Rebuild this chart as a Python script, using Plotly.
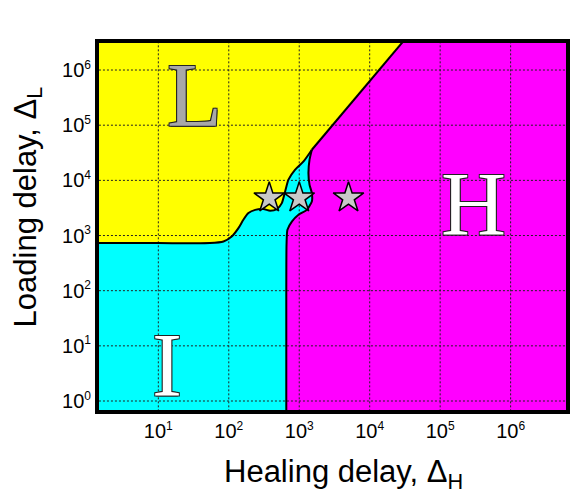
import plotly.graph_objects as go

# boundary between the L (yellow) and I (cyan) regions, left to right
LI_X = [0.1, 1, 10, 54, 84, 110, 137, 161, 190, 237, 310, 386, 481, 566, 631, 703, 875, 1150, 1510]
LI_Y = [728, 728, 728, 728, 778, 959, 1360, 1930, 2550, 2920, 3010, 2810, 3010, 3870, 6300, 10300, 15600, 22000, 35900]

# straight boundary between L and H, from the triple point up past the top
LH_X = [1510, 62000]
LH_Y = [35900, 1e7]

# boundary between I (cyan) and H (magenta), from the triple point down
IH_X = [1510, 1400, 1350, 1400, 1510, 1510, 1280, 975, 785, 680, 660, 655, 655, 655]
IH_Y = [35900, 23700, 13600, 8300, 5900, 4140, 2920, 2380, 1790, 1270, 678, 10, 0.1, 0.01]

# simulated points
STAR_X = [375, 1000, 5000]
STAR_Y = [4800, 4800, 4800]

X_TICKS = [10, 100, 1000, 1e4, 1e5, 1e6]
X_EXP = ["1", "2", "3", "4", "5", "6"]
Y_TICKS = [1, 10, 100, 1000, 1e4, 1e5, 1e6]
Y_EXP = ["0", "1", "2", "3", "4", "5", "6"]

# region labels (log10 positions for annotations)
REGION_TEXT = ["L", "H", "I"]
REGION_X = [1.51, 5.48, 1.12]
REGION_Y = [5.53, 3.56, 0.65]

XMIN, XMAX = 0.01, 1e8
YMIN, YMAX = 0.01, 1e8


def power_label(e):
    return "10<sup><span style='font-size:12px'>" + e + "</span></sup>"


fig = go.Figure()

# H region (magenta)
fig.add_trace(go.Scatter(
    x=LH_X + [XMAX, XMAX] + IH_X[::-1][:-1],
    y=LH_Y + [LH_Y[-1], YMIN] + IH_Y[::-1][:-1],
    fill="toself", fillcolor="#ff00ff", mode="lines", line=dict(width=0),
    hoverinfo="skip", showlegend=False
))
# L region (yellow)
fig.add_trace(go.Scatter(
    x=LI_X + LH_X[1:] + [XMIN],
    y=LI_Y + LH_Y[1:] + [LH_Y[-1]],
    fill="toself", fillcolor="#ffff00", mode="lines", line=dict(width=0),
    hoverinfo="skip", showlegend=False
))
# I region (cyan)
fig.add_trace(go.Scatter(
    x=LI_X + IH_X[1:] + [XMIN],
    y=LI_Y + IH_Y[1:] + [YMIN],
    fill="toself", fillcolor="#00ffff", mode="lines", line=dict(width=0),
    hoverinfo="skip", showlegend=False
))

# dotted grid on top of the colour fills
gx, gy = [], []
for v in X_TICKS:
    gx += [v, v, None]
    gy += [YMIN, YMAX, None]
for v in Y_TICKS:
    gx += [XMIN, XMAX, None]
    gy += [v, v, None]
fig.add_trace(go.Scatter(
    x=gx, y=gy, mode="lines",
    line=dict(color="#222222", width=1, dash="2px,2px"),
    hoverinfo="skip", showlegend=False
))

# phase boundaries
for bx, by in [(LI_X, LI_Y), (LH_X, LH_Y), (IH_X, IH_Y)]:
    fig.add_trace(go.Scatter(
        x=bx, y=by, mode="lines",
        line=dict(color="black", width=2, shape="spline", smoothing=0.6),
        hoverinfo="skip", showlegend=False
    ))

fig.add_trace(go.Scatter(
    x=STAR_X, y=STAR_Y, mode="markers",
    marker=dict(symbol="star", size=23, color="#c8c8c8", line=dict(color="black", width=1.5)),
    showlegend=False
))

outline = "1px 1px 0 #222, -1px -1px 0 #222, 1px -1px 0 #222, -1px 1px 0 #222"
region_colors = ["#a8a8a8", "white", "white"]
for t, ax_, ay_, c in zip(REGION_TEXT, REGION_X, REGION_Y, region_colors):
    fig.add_annotation(
        x=ax_, y=ay_, xref="x", yref="y", text=t, showarrow=False,
        xanchor="center", yanchor="middle",
        font=dict(family="Liberation Serif", size=90, color=c, shadow=outline)
    )

# axis titles
fig.add_annotation(
    x=0.524, y=-0.114, xref="paper", yref="paper", showarrow=False,
    xanchor="center", yanchor="top",
    text="Healing delay, Δ<sub>H</sub>",
    font=dict(family="Liberation Sans", size=31, color="black")
)
fig.add_annotation(
    x=-0.152, y=0.552, xref="paper", yref="paper", showarrow=False,
    xanchor="center", yanchor="middle", textangle=-90,
    text="Loading delay, Δ<sub>L</sub>",
    font=dict(family="Liberation Sans", size=31, color="black")
)

fig.update_xaxes(
    type="log", range=[0.158, 6.786],
    tickmode="array", tickvals=X_TICKS, ticktext=[power_label(e) for e in X_EXP],
    showgrid=False, zeroline=False, ticks="",
    showline=True, mirror=True, linecolor="black", linewidth=4,
    tickfont=dict(family="Liberation Sans", size=20, color="black")
)
fig.update_yaxes(
    type="log", range=[-0.163, 6.49],
    tickmode="array", tickvals=Y_TICKS, ticktext=[power_label(e) for e in Y_EXP],
    showgrid=False, zeroline=False, ticks="",
    showline=True, mirror=True, linecolor="black", linewidth=4,
    tickfont=dict(family="Liberation Sans", size=20, color="black")
)

# the page body adds an 8px offset, so the figure is sized to fit inside the window
fig.update_layout(
    width=573, height=491,
    margin=dict(l=91, r=15, t=35, b=89),
    paper_bgcolor="white", plot_bgcolor="#ff00ff",
    showlegend=False
)

fig.write_html("out.html")
